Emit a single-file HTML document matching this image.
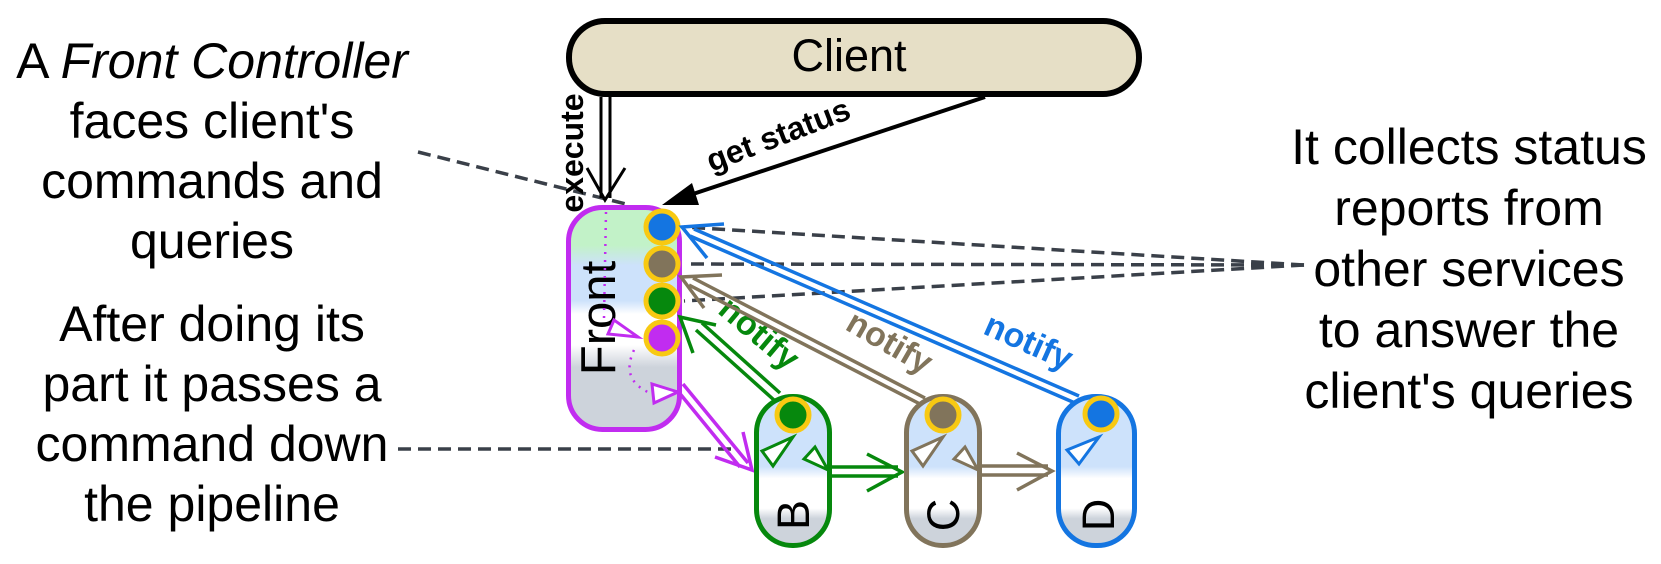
<!DOCTYPE html>
<html><head><meta charset="utf-8"><style>
html,body{margin:0;padding:0;background:#fff;}
svg{display:block;}
text{font-family:"Liberation Sans",sans-serif;}
</style></head><body>
<svg width="1661" height="564" viewBox="0 0 1661 564" xmlns="http://www.w3.org/2000/svg">
<defs>
<linearGradient id="gf" x1="0" y1="0" x2="0" y2="1">
<stop offset="0" stop-color="#c2f2c8"/><stop offset="0.17" stop-color="#c2f2c8"/>
<stop offset="0.26" stop-color="#cde2fb"/><stop offset="0.42" stop-color="#cde2fb"/>
<stop offset="0.48" stop-color="#ffffff"/><stop offset="0.62" stop-color="#ffffff"/>
<stop offset="0.72" stop-color="#cdd3db"/><stop offset="1" stop-color="#cdd3db"/>
</linearGradient>
<linearGradient id="gb" x1="0" y1="0" x2="0" y2="1">
<stop offset="0" stop-color="#cde2fb"/><stop offset="0.47" stop-color="#cde2fb"/>
<stop offset="0.55" stop-color="#ffffff"/><stop offset="0.75" stop-color="#ffffff"/>
<stop offset="0.82" stop-color="#cdd3db"/><stop offset="1" stop-color="#cdd3db"/>
</linearGradient>
</defs>

<!-- left text -->
<g font-size="50" text-anchor="middle" fill="#000">
<text x="212" y="78">A <tspan font-style="italic">Front Controller</tspan></text>
<text x="212" y="138">faces client's</text>
<text x="212" y="198">commands and</text>
<text x="212" y="258">queries</text>
<text x="212" y="341">After doing its</text>
<text x="212" y="401">part it passes a</text>
<text x="212" y="461">command down</text>
<text x="212" y="521">the pipeline</text>
</g>
<!-- right text -->
<g font-size="50" text-anchor="middle" fill="#000">
<text x="1469" y="164">It collects status</text>
<text x="1469" y="225">reports from</text>
<text x="1469" y="286">other services</text>
<text x="1469" y="347">to answer the</text>
<text x="1469" y="408">client's queries</text>
</g>

<!-- dashed callouts -->
<g stroke="#3a4049" stroke-width="3.5" stroke-dasharray="13,7" fill="none">
<line x1="418" y1="152" x2="630" y2="205"/>
<line x1="398" y1="449" x2="733" y2="449"/>
<line x1="1304" y1="265" x2="684" y2="227"/>
<line x1="1304" y1="265" x2="684" y2="264"/>
<line x1="1304" y1="265" x2="684" y2="301"/>
</g>

<!-- Client -->
<rect x="569" y="21" width="570" height="73" rx="36" fill="#e6dfc6" stroke="#000" stroke-width="6"/>
<text x="849" y="71" font-size="45" text-anchor="middle">Client</text>

<!-- execute -->
<g stroke="#000" stroke-width="3" fill="none">
<line x1="601" y1="97" x2="601" y2="198"/>
<line x1="610" y1="97" x2="610" y2="198"/>
<polyline points="587,168 605,200 625,168"/>
</g>
<text transform="translate(583,153) rotate(-90)" font-size="32" font-weight="bold" text-anchor="middle">execute</text>

<!-- get status -->
<line x1="985" y1="97" x2="690" y2="195" stroke="#000" stroke-width="4"/>
<polygon points="662,205 692,183 699,205" fill="#000"/>
<text transform="translate(782,145) rotate(-21)" font-size="32" font-weight="bold" text-anchor="middle">get status</text>

<!-- Front -->
<rect x="568.5" y="207.5" width="111" height="222" rx="34" fill="url(#gf)" stroke="#c12cf0" stroke-width="5"/>
<text transform="translate(615,318) rotate(-90)" font-size="49" text-anchor="middle">Front</text>
<path d="M606,212 L604,318" stroke="#c12cf0" stroke-width="2.5" stroke-dasharray="2,6" fill="none"/>
<polygon points="638,337 614,320 608,334" fill="#fff" stroke="#c12cf0" stroke-width="3"/>
<path d="M634,350 Q620,380 650,393" stroke="#c12cf0" stroke-width="2.5" stroke-dasharray="2,6" fill="none"/>
<polygon points="678,392 652,384 654,403" fill="#fff" stroke="#c12cf0" stroke-width="3"/>
<g stroke="#c12cf0" stroke-width="3.5" fill="none">
<line x1="683" y1="384" x2="748" y2="463"/>
<line x1="677" y1="390" x2="740" y2="467"/>
<polyline points="743,432 752,470 715,457"/>
</g>

<g stroke="#f8c912" stroke-width="5">
<circle cx="662" cy="227" r="16" fill="#1475e1"/>
<circle cx="662" cy="264" r="16" fill="#81745b"/>
<circle cx="662" cy="301" r="16" fill="#06880d"/>
<circle cx="662" cy="338" r="16" fill="#c12cf0"/>
</g>

<!-- notify green -->
<g stroke="#06880d" stroke-width="3.5" fill="none">
<line x1="702" y1="323" x2="780" y2="393"/>
<line x1="696" y1="330" x2="774" y2="400"/>
<polyline points="716,325 680,317 693,353"/>
</g>
<text transform="translate(752,342) rotate(40)" font-size="34" font-weight="bold" fill="#06880d" text-anchor="middle">notify</text>
<!-- notify brown -->
<g stroke="#81745b" stroke-width="3.5" fill="none">
<line x1="693" y1="278" x2="925" y2="398"/>
<line x1="689" y1="285" x2="920" y2="404"/>
<polyline points="722,275 681,277 704,308"/>
</g>
<text transform="translate(884,352) rotate(30)" font-size="34" font-weight="bold" fill="#81745b" text-anchor="middle">notify</text>
<!-- notify blue -->
<g stroke="#1475e1" stroke-width="3.5" fill="none">
<line x1="694" y1="229" x2="1079" y2="396"/>
<line x1="690" y1="236" x2="1075" y2="403"/>
<polyline points="724,224 682,227 707,258"/>
</g>
<text transform="translate(1024,352) rotate(24)" font-size="34" font-weight="bold" fill="#1475e1" text-anchor="middle">notify</text>

<!-- B -->
<rect x="756.5" y="396.5" width="73" height="149" rx="36" fill="url(#gb)" stroke="#06880d" stroke-width="5"/>
<circle cx="793" cy="415" r="16" fill="#06880d" stroke="#f8c912" stroke-width="5"/>
<text transform="translate(809,515) rotate(-90)" font-size="45" text-anchor="middle">B</text>
<g stroke="#06880d" stroke-width="3" fill="#fff">
<polygon points="793,437 762,451 773,466"/>
<polygon points="815,447 804,459 828,470"/>
</g>
<g stroke="#06880d" stroke-width="3.5" fill="none">
<line x1="830" y1="467" x2="898" y2="467"/>
<line x1="830" y1="476" x2="898" y2="476"/>
<polyline points="867,454 902,472 867,491"/>
</g>

<!-- C -->
<rect x="906.5" y="396.5" width="73" height="149" rx="36" fill="url(#gb)" stroke="#81745b" stroke-width="5"/>
<circle cx="943" cy="415" r="16" fill="#81745b" stroke="#f8c912" stroke-width="5"/>
<text transform="translate(959,515) rotate(-90)" font-size="45" text-anchor="middle">C</text>
<g stroke="#81745b" stroke-width="3" fill="#fff">
<polygon points="943,437 912,451 923,466"/>
<polygon points="965,447 954,459 978,470"/>
</g>
<g stroke="#81745b" stroke-width="3.5" fill="none">
<line x1="981" y1="466" x2="1048" y2="466"/>
<line x1="981" y1="475" x2="1048" y2="475"/>
<polyline points="1017,453 1052,471 1017,490"/>
</g>

<!-- D -->
<rect x="1058.5" y="396.5" width="76" height="149" rx="37" fill="url(#gb)" stroke="#1475e1" stroke-width="5"/>
<circle cx="1101" cy="414" r="16" fill="#1475e1" stroke="#f8c912" stroke-width="5"/>
<text transform="translate(1114,515) rotate(-90)" font-size="45" text-anchor="middle">D</text>
<polygon points="1099,437 1067,450 1079,464" fill="#fff" stroke="#1475e1" stroke-width="3"/>
</svg>
</body></html>
